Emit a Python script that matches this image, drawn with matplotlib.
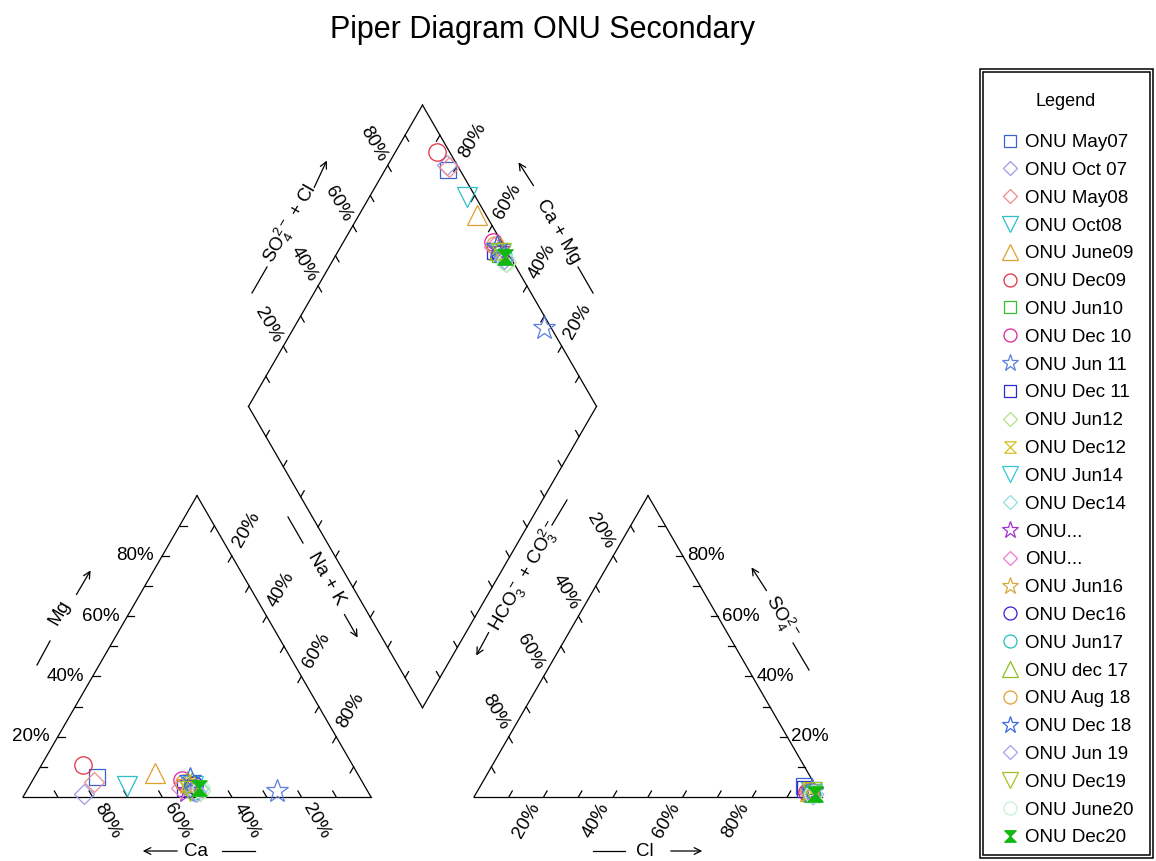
import matplotlib.pyplot as plt
import matplotlib.patches as patches
import numpy as np

plt.rcParams["font.family"] = ["Liberation Sans", "DejaVu Sans"]
plt.rcParams["mathtext.default"] = "regular"

## -----------------------------------------------------------------------------
# Samples (percent of meq)
samples = ["ONU May07", "ONU Oct 07", "ONU May08", "ONU Oct08", "ONU June09",
           "ONU Dec09", "ONU Jun10", "ONU Dec 10", "ONU Jun 11", "ONU Dec 11",
           "ONU Jun12", "ONU Dec12", "ONU Jun14", "ONU Dec14", "ONU...", "ONU...",
           "ONU Jun16", "ONU Dec16", "ONU Jun17", "ONU dec 17", "ONU Aug 18",
           "ONU Dec 18", "ONU Jun 19", "ONU Dec19", "ONU June20", "ONU Dec20"]

ca = [75.5, 82, 77, 68.5, 58, 77.5, 50, 51.5, 26, 52, 48, 50, 49.5,
      48, 52, 53, 50.5, 49, 50, 49, 51.5, 49, 49.5, 51, 47.5, 48]
mg = [6.5, 1, 5, 3.5, 8, 10.5, 3, 5.5, 2, 3, 2, 4, 3.5,
      3, 2, 3, 4.5, 4, 2, 5, 4.5, 6, 1.5, 2, 2.5, 3]
na_k = [18, 17, 18, 28, 34, 12, 47, 43, 72, 45, 50, 46, 47,
        49, 46, 44, 45, 47, 48, 46, 44, 45, 49, 47, 50, 49]

cl = [93, 95, 95.5, 96, 95.5, 95, 96.5, 95.5, 96.5, 94, 97, 96, 96.5,
      97, 96, 95.5, 96, 96, 96.5, 96, 95.5, 96, 97, 96.5, 97, 97.5]
so4 = [3.5, 2, 2, 1.5, 2, 1.5, 1, 2, 1.5, 2.5, 1, 1.5, 1,
       1, 2, 1.5, 2, 1.5, 1.5, 2, 2, 2, 1, 1.5, 1, 1]
hco3 = [3.5, 3, 2.5, 2.5, 2.5, 3.5, 2.5, 2.5, 2, 3.5, 2, 2.5, 2.5,
        2, 2, 3, 2, 2.5, 2, 2, 2.5, 2, 2, 2, 2, 1.5]

hourglass = [(-1, 1), (1, 1), (-1, -1), (1, -1), (-1, 1)]
markers = ["s", "D", "D", "v", "^", "o", "s", "o", "*", "s", "D", hourglass, "v",
           "D", "*", "D", "*", "o", "o", "^", "o", "*", "D", "v", "o", hourglass]
colors = ["#3a62d6", "#9b9be8", "#f08a8a", "#2bbfc8", "#e0a030", "#e03040",
          "#30c030", "#e0209a", "#5b7fe0", "#2a2ad0", "#b5e08a", "#d4c020",
          "#30c8d8", "#8ee0e0", "#a030d0", "#f07ad0", "#d8a840", "#3020d0",
          "#20c0b8", "#8cc020", "#e0a030", "#3a6ae0", "#a0a0f0", "#a8c020",
          "#c8f0d0", "#10b810"]
filled = [False] * 25 + [True]

## -----------------------------------------------------------------------------
# Geometry (unit side triangles)
H = np.sqrt(3) / 2
GAP = 0.296
PX = 348.0
TICK = 0.02
W, HGT = 1156, 861


def px(x, y):
    # pixel position -> data units
    return (x - 23) / PX, (797 - y) / PX


fig = plt.figure(figsize=(W / 100, HGT / 100), dpi=100)
ax = fig.add_axes([0, 0, 1, 1])
ax.set_xlim(px(0, 0)[0], px(W, 0)[0])
ax.set_ylim(px(0, HGT)[1], px(0, 0)[1])
ax.axis("off")

B = np.array([1 + GAP / 2, GAP * H])
L = B + [-0.5, H]
T = B + [0, 2 * H]
R = B + [0.5, H]


def edge(p0, p1, inward, labels=True, off=(0, 0), rot=0, ha="center", va="center"):
    p0, p1, inward = np.array(p0), np.array(p1), np.array(inward)
    ax.plot([p0[0], p1[0]], [p0[1], p1[1]], color="black", lw=0.9)
    for k in range(1, 10):
        p = p0 + k / 10 * (p1 - p0)
        q = p + TICK * inward
        ax.plot([p[0], q[0]], [p[1], q[1]], color="black", lw=0.9)
        if labels and k % 2 == 0:
            ax.text(p[0] + off[0], p[1] + off[1], "%d%%" % (k * 10), rotation=rot,
                    ha=ha, va=va, fontsize=13.5)


# cation triangle
edge((1, 0), (0, 0), (-0.5, H), off=(-0.006, -0.009), rot=-60, ha="left", va="top")
edge((0, 0), (0.5, H), (1, 0), off=(-0.023, 0), rot=0, ha="right", va="center")
edge((0.5, H), (1, 0), (-0.5, -H), off=(-0.006, 0.017), rot=60, ha="left", va="bottom")
# anion triangle
edge((1 + GAP, 0), (2 + GAP, 0), (0.5, H), off=(0, -0.009), rot=60, ha="right", va="top")
edge((1.5 + GAP, H), (1 + GAP, 0), (0.5, -H), off=(0.011, 0.011), rot=-60, ha="right", va="bottom")
edge((2 + GAP, 0), (1.5 + GAP, H), (-1, 0), off=(0.012, 0), rot=0, ha="left", va="center")
# diamond
edge(L, T, (0.5, -H), off=(0.006, 0.003), rot=-60, ha="right", va="bottom")
edge(R, T, (-0.5, -H), off=(-0.003, 0.011), rot=60, ha="left", va="bottom")
edge(L, B, (0.5, H), labels=False)
edge(R, B, (-0.5, H), labels=False)

## -----------------------------------------------------------------------------
# Axis titles with arrows
arrow = dict(arrowstyle="->", lw=0.9, color="black", mutation_scale=12)
titles = [
    ("Mg", (60, 613), 60, (37, 665), (50, 641), (75, 597), (92, 568)),
    ("Ca", (196, 851), 0, (222, 851), (255, 851), (180, 851), (140, 851)),
    ("Na + K", (326, 579), -60, (288, 517), (303, 543), (343, 612), (359, 640)),
    ("HCO$_3^-$ + CO$_3^{2-}$", (525, 576), 60, (567, 500), (552, 525), (490, 630), (475, 658)),
    ("Cl", (645, 851), 0, (593, 851), (625, 851), (668, 851), (705, 851)),
    ("SO$_4^{2-}$", (781, 617), -60, (793, 643), (809, 670), (768, 593), (750, 565)),
    ("SO$_4^{2-}$ + Cl", (290, 224), 60, (252, 293), (267, 267), (313, 190), (328, 158)),
    ("Ca + Mg", (558, 232), -60, (578, 267), (593, 293), (535, 188), (517, 160)),
]
for txt, pos, rot, d0, d1, a0, a1 in titles:
    ax.text(*px(*pos), txt, rotation=rot, ha="center", va="center", fontsize=13.5)
    ax.plot([px(*d0)[0], px(*d1)[0]], [px(*d0)[1], px(*d1)[1]], color="black", lw=0.9)
    ax.annotate("", xy=px(*a1), xytext=px(*a0), arrowprops=arrow)

ax.text(*px(543, 30), "Piper Diagram ONU Secondary", ha="center", va="center", fontsize=22)

## -----------------------------------------------------------------------------
# Points
sizes = {"o": 12.5, "s": 11, "D": 10, "^": 15, "v": 15, "*": 17}
for i, name in enumerate(samples):
    cat_tot = ca[i] + mg[i] + na_k[i]
    an_tot = cl[i] + so4[i] + hco3[i]
    m, n = mg[i] / cat_tot, na_k[i] / cat_tot
    s, c = so4[i] / an_tot, cl[i] / an_tot
    a = s + c
    xs = [n + 0.5 * m, 1 + GAP + c + 0.5 * s, B[0] + 0.5 * (a - (1 - n))]
    ys = [H * m, H * s, B[1] + H * ((1 - n) + a)]
    mk = markers[i]
    ms = sizes.get(mk, 11) if isinstance(mk, str) else 11
    ax.plot(xs, ys, ls="none", marker=mk, ms=ms, mec=colors[i], mew=0.9,
            mfc=colors[i] if filled[i] else "none", label=name)

## -----------------------------------------------------------------------------
# Legend with a double frame
leg = ax.legend(loc="upper left", bbox_to_anchor=(1000.6 / W, 1 - 93 / HGT, 130.8 / W, 0),
                bbox_transform=fig.transFigure, mode="expand", borderaxespad=0,
                title="Legend", fontsize=13.5, title_fontsize=13, frameon=False,
                handlelength=1.0, handletextpad=0.3, borderpad=0,
                labelspacing=0.57, markerscale=0.75)
leg._legend_box.sep = 17.3

for (x0, y0, x1, y1) in [(983, 72, 1150, 855), (980, 69, 1153, 858)]:
    fig.add_artist(patches.Rectangle((x0 / W, 1 - y1 / HGT), (x1 - x0) / W, (y1 - y0) / HGT,
                                     fill=False, lw=1.1, ec="black", transform=fig.transFigure))

plt.savefig("out.png", dpi=100)
